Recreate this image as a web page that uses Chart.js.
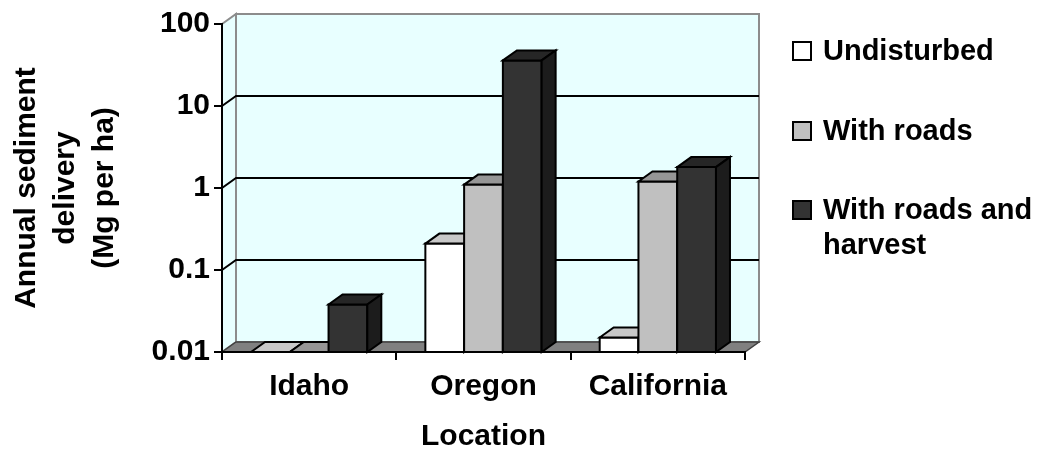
<!DOCTYPE html>
<html>
<head>
<meta charset="utf-8">
<script src="https://cdn.jsdelivr.net/npm/chart.js@4"></script>
<style>
  html, body { margin: 0; padding: 0; background: #fff; }
  canvas { display: block; }
</style>
</head>
<body>
<canvas id="sediment" width="1041" height="456"></canvas>
<script>
const locations = ['Idaho', 'Oregon', 'California'];
const seriesNames = ['Undisturbed', 'With roads', 'With roads and harvest'];
const undisturbed = [0, 0.21, 0.015];
const withRoads = [0, 1.1, 1.2];
const withRoadsHarvest = [0.038, 36, 1.8];
const yTicks = [0.01, 0.1, 1, 10, 100];
const yTickLabels = ['0.01', '0.1', '1', '10', '100'];
const legendLines = [['Undisturbed'], ['With roads'], ['With roads and', 'harvest']];

const FONT = "'Liberation Sans', Arial, sans-serif";
const DX = 14, DY = -10;          // depth offset of the 3-D box
const fronts = ['#ffffff', '#c0c0c0', '#333333'];
const tops = ['#c8c8c8', '#969696', '#262626'];
const sides = ['#a0a0a0', '#7a7a7a', '#1c1c1c'];

function poly(ctx, pts, fill, stroke, lw) {
  ctx.beginPath();
  ctx.moveTo(pts[0][0], pts[0][1]);
  for (let k = 1; k < pts.length; k++) ctx.lineTo(pts[k][0], pts[k][1]);
  ctx.closePath();
  if (fill) { ctx.fillStyle = fill; ctx.fill(); }
  if (stroke) { ctx.strokeStyle = stroke; ctx.lineWidth = lw; ctx.stroke(); }
}

const box3d = {
  id: 'box3d',
  beforeDraw(chart) {
    const { ctx, chartArea: a, scales: { y } } = chart;
    const L = a.left, R = a.right, T = a.top, B = a.bottom;
    ctx.save();
    ctx.lineJoin = 'miter';
    // back and side walls
    poly(ctx, [[L + DX, T + DY], [R + DX, T + DY], [R + DX, B + DY], [L + DX, B + DY]], '#e8ffff', '#8c8c8c', 2);
    poly(ctx, [[L, T], [L + DX, T + DY], [L + DX, B + DY], [L, B]], '#e8ffff', '#8c8c8c', 2);
    // floor
    poly(ctx, [[L, B], [R, B], [R + DX, B + DY], [L + DX, B + DY]], '#808080', '#404040', 1.5);
    // decade gridlines on side and back walls
    ctx.strokeStyle = '#000';
    ctx.lineWidth = 2;
    yTicks.forEach(v => {
      if (v <= y.min || v >= y.max) return;
      const py = Math.round(y.getPixelForValue(v));
      ctx.beginPath();
      ctx.moveTo(L, py);
      ctx.lineTo(L + DX, py + DY);
      ctx.lineTo(R + DX, py + DY);
      ctx.stroke();
    });
    ctx.restore();
  },
  afterDatasetsDraw(chart) {
    const { ctx } = chart;
    const metas = chart.data.datasets.map((_, d) => chart.getDatasetMeta(d));
    ctx.save();
    ctx.lineJoin = 'miter';
    // paint left to right so each column hides the side of its neighbour
    for (let i = 0; i < chart.data.labels.length; i++) {
      metas.forEach((meta, d) => {
        const { x, y, base, width } = meta.data[i].getProps(['x', 'y', 'base', 'width'], true);
        const l = x - width / 2, r = x + width / 2;
        poly(ctx, [[l, y], [r, y], [r, base], [l, base]], fronts[d], '#000', 2);
        poly(ctx, [[l, y], [l + DX, y + DY], [r + DX, y + DY], [r, y]], tops[d], '#000', 2);
        if (base - y > 0.5) {
          poly(ctx, [[r, y], [r + DX, y + DY], [r + DX, base + DY], [r, base]], sides[d], '#000', 2);
        }
      });
    }
    ctx.restore();
  },
  afterDraw(chart) {
    const { ctx } = chart;
    const boxX = 793, textX = 823, box = 18;
    const rows = [51, 131, 210];
    ctx.save();
    ctx.font = 'bold 29px ' + FONT;
    ctx.textBaseline = 'middle';
    ctx.fillStyle = '#000';
    legendLines.forEach((lines, d) => {
      const cy = rows[d];
      ctx.fillStyle = fronts[d];
      ctx.fillRect(boxX, cy - box / 2, box, box);
      ctx.strokeStyle = '#000';
      ctx.lineWidth = 2;
      ctx.strokeRect(boxX, cy - box / 2, box, box);
      ctx.fillStyle = '#000';
      lines.forEach((t, k) => ctx.fillText(t, textX, cy + k * 35 + 1));
    });
    ctx.restore();
  }
};

new Chart(document.getElementById('sediment'), {
  type: 'bar',
  data: {
    labels: locations,
    datasets: [
      { label: seriesNames[0], data: undisturbed, backgroundColor: fronts[0] },
      { label: seriesNames[1], data: withRoads, backgroundColor: fronts[1] },
      { label: seriesNames[2], data: withRoadsHarvest, backgroundColor: fronts[2] }
    ]
  },
  options: {
    responsive: false,
    animation: false,
    devicePixelRatio: 1,
    layout: { padding: { top: 24, right: 296, bottom: 0, left: 0 } },
    datasets: {
      bar: { borderColor: '#000', borderWidth: 2, categoryPercentage: 0.667, barPercentage: 1 }
    },
    plugins: {
      legend: { display: false },
      tooltip: { enabled: false }
    },
    scales: {
      x: {
        afterFit: s => { s.height = 104; },
        grid: { display: true, drawOnChartArea: false, drawTicks: true, tickLength: 8, color: '#000', lineWidth: 2, offset: true },
        border: { display: true, color: '#000', width: 2 },
        ticks: { color: '#000', font: { family: FONT, size: 30, weight: 'bold' }, padding: 9, maxRotation: 0 },
        title: {
          display: true, text: 'Location', color: '#000',
          font: { family: FONT, size: 30, weight: 'bold', lineHeight: 1.2 },
          padding: { top: 0, bottom: 1 }
        }
      },
      y: {
        type: 'logarithmic',
        min: 0.01,
        max: 100,
        afterFit: s => { s.width = 222; },
        afterBuildTicks: s => { s.ticks = yTicks.map(v => ({ value: v })); },
        grid: { display: true, drawOnChartArea: false, drawTicks: true, tickLength: 8, color: '#000', lineWidth: 2 },
        border: { display: true, color: '#000', width: 2 },
        ticks: {
          autoSkip: false, color: '#000', padding: 4,
          font: { family: FONT, size: 30, weight: 'bold' },
          callback: v => yTickLabels[yTicks.indexOf(v)]
        },
        title: {
          display: true, text: ['Annual sediment', 'delivery', '(Mg per ha)'], color: '#000',
          font: { family: FONT, size: 30, weight: 'bold', lineHeight: 1.3 },
          padding: { top: 7, bottom: 0 }
        }
      }
    }
  },
  plugins: [box3d]
});
</script>
</body>
</html>
